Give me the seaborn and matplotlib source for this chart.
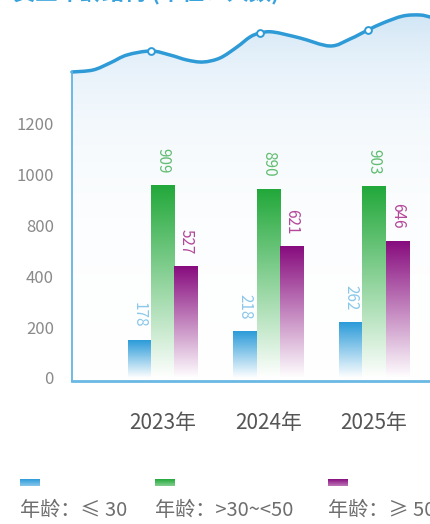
import numpy as np
import pandas as pd
import matplotlib
matplotlib.use("Agg")
import matplotlib.pyplot as plt
import seaborn as sns
from matplotlib.colors import to_rgb
from matplotlib.patches import PathPatch
from matplotlib.path import Path

# ─────────────────────────────────────────
# DATA
# ─────────────────────────────────────────
years = ["2023年", "2024年", "2025年"]
groups = ["年龄：≤ 30", "年龄：>30~<50", "年龄：≥ 50"]
age_young = [178, 218, 262]
age_middle = [909, 890, 903]
age_senior = [527, 621, 646]

ytick_labels = ["0", "200", "400", "800", "1000", "1200"]
title = "员工年龄结构 (单位：人数)"

# decorative wave at the top (figure pixels)
wave_x = [72, 93, 110, 127, 151, 170, 187, 203, 220, 237, 250, 260, 273,
          300, 330, 350, 368, 383, 403, 420, 430]
wave_y = [72, 70, 63, 55, 51, 55, 60, 62, 58, 47, 37, 33, 32,
          38, 46, 39, 30, 23, 16, 15, 17]
wave_marks = [4, 11, 16]

bar_colors = ["#2b9bd9", "#22a83a", "#870c7e"]
label_colors = ["#8cc8ea", "#62bd72", "#b4479a"]

# ─────────────────────────────────────────
# FIGURE
# ─────────────────────────────────────────
sns.set_style("white")
plt.rcParams["font.family"] = ["Noto Sans CJK SC", "DejaVu Sans"]

W, H = 430, 524
fig = plt.figure(figsize=(W / 100, H / 100), dpi=100)

# background layer in pixel coordinates
bg = fig.add_axes([0, 0, 1, 1], zorder=0)
bg.set_xlim(0, W)
bg.set_ylim(H, 0)
bg.axis("off")


def gradient(color, n=256, start=0.0, end=1.0):
    rgb = np.array(to_rgb(color))
    t = np.linspace(start, end, n)
    img = rgb[None, :] * (1 - t[:, None]) + t[:, None]
    return img[:, None, :]


def smooth_path(xs, ys):
    # Catmull-Rom through the read points, drawn as cubic Bezier pieces
    p = np.column_stack([xs, ys]).astype(float)
    p_ext = np.vstack([p[0], p, p[-1]])
    verts = [p[0]]
    codes = [Path.MOVETO]
    for i in range(1, len(p_ext) - 2):
        p0, p1, p2, p3 = p_ext[i - 1], p_ext[i], p_ext[i + 1], p_ext[i + 2]
        verts += [p1 + (p2 - p0) / 6, p2 - (p3 - p1) / 6, p2]
        codes += [Path.CURVE4] * 3
    return verts, codes


base_y = 381
wv, wc = smooth_path(wave_x, wave_y)

# light blue fill under the wave
fill_path = Path(wv + [(W, base_y), (72, base_y), wv[0]],
                 wc + [Path.LINETO, Path.LINETO, Path.CLOSEPOLY])
fill_patch = PathPatch(fill_path, facecolor="none", edgecolor="none")
bg.add_patch(fill_patch)
t = np.linspace(0, 1, 300)
fade = 1 - np.exp(-t * 366 / 80)
sky = np.array(to_rgb("#d0e5f5"))[None, :] * (1 - fade[:, None]) + fade[:, None]
im = bg.imshow(sky[:, None, :], extent=[72, W, base_y, 12], aspect="auto",
               interpolation="bicubic", zorder=1)
im.set_clip_path(fill_patch)

bg.add_patch(PathPatch(Path(wv, wc), facecolor="none", edgecolor="#2e9ad6",
                       lw=2.5, capstyle="round", zorder=3))
bg.scatter([wave_x[i] for i in wave_marks], [wave_y[i] for i in wave_marks],
           s=24, facecolor="white", edgecolor="#2e9ad6", linewidth=1.4, zorder=4)

# title, mostly cut off at the top edge
bg.text(13, 4, title, va="bottom", ha="left", fontsize=16, fontweight="bold",
        color="#3aa3dc")

# legend at the bottom
legend_x = [20, 155, 328]
for gx, grp, col in zip(legend_x, groups, bar_colors):
    bg.imshow(gradient(col, end=0.45), extent=[gx, gx + 20, 486, 479],
              aspect="auto", interpolation="bicubic", zorder=2)
    bg.text(gx, 511, grp, va="center", ha="left", fontsize=14.5, color="#6e6e6e")
bg.set_xlim(0, W)
bg.set_ylim(H, 0)

# ─────────────────────────────────────────
# BARS
# ─────────────────────────────────────────
df = pd.DataFrame({
    "year": years * 3,
    "group": np.repeat(groups, len(years)),
    "count": age_young + age_middle + age_senior,
})

ax = fig.add_axes([72 / W, (H - base_y) / H, (W - 72) / W, (base_y - 72) / H], zorder=1)
ax.set_facecolor("none")
sns.barplot(data=df, x="year", y="count", hue="group", order=years,
            hue_order=groups, palette=bar_colors, width=0.66, saturation=1,
            legend=False, ax=ax)

unit_px = (378 - 124) / 1200
ylim = (-(base_y - 378) / unit_px, (378 - 72) / unit_px)
xlim = (-0.858, 2.53)

for container, col, lcol in zip(ax.containers, bar_colors, label_colors):
    for bar in container:
        x0, w, h = bar.get_x(), bar.get_width(), bar.get_height()
        ax.imshow(gradient(col, end=1.0), extent=[x0, x0 + w, 0, h],
                  aspect="auto", interpolation="bicubic", zorder=2)
        bar.set_facecolor("none")
        bar.set_edgecolor("none")
        ax.annotate(f"{int(h)}", (x0 + w / 2, h), xytext=(0, 9),
                    textcoords="offset points", rotation=270, ha="center",
                    va="bottom", fontsize=11, color=lcol)

ax.set_xlim(*xlim)
ax.set_ylim(*ylim)
ax.set_yticks(np.linspace(0, 1200, len(ytick_labels)))
ax.set_yticklabels(ytick_labels)
ax.set_xlabel("")
ax.set_ylabel("")
ax.tick_params(axis="y", length=0, pad=13, labelsize=12, labelcolor="#8a8a8a")
ax.tick_params(axis="x", length=0, pad=22, labelsize=15, labelcolor="#555555")

for side in ["top", "right"]:
    ax.spines[side].set_visible(False)
ax.spines["left"].set_color("#62b4e2")
ax.spines["left"].set_linewidth(1.3)
ax.spines["bottom"].set_color("#6ab8e4")
ax.spines["bottom"].set_linewidth(2)

fig.savefig("out.png", dpi=100)
